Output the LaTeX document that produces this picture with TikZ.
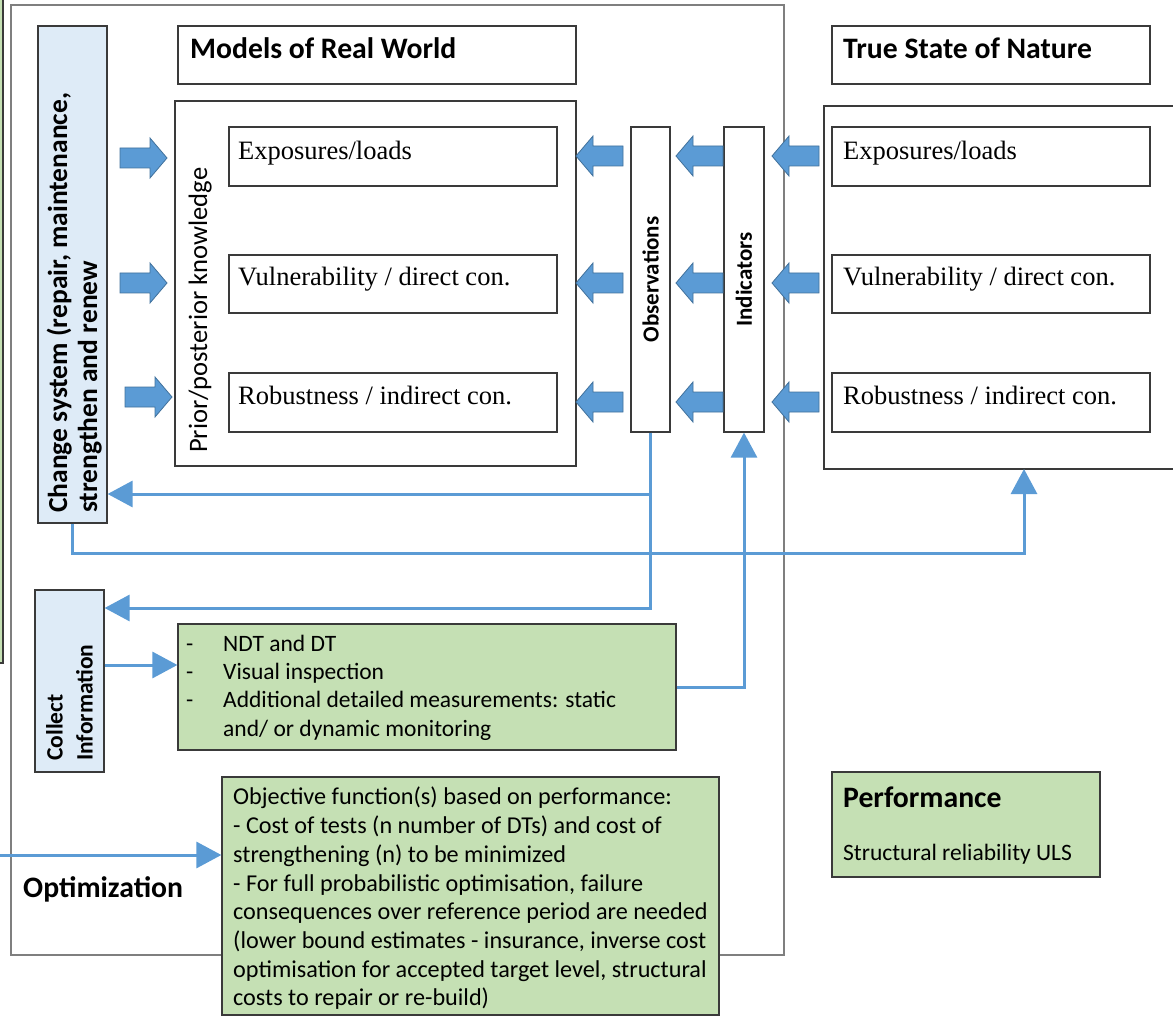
\documentclass[tikz,border=0pt]{standalone}
\usepackage{fontspec}
\setmainfont{Carlito}
\newfontfamily\timesfont{Liberation Serif}
\usetikzlibrary{arrows.meta,fit}
\definecolor{arrowblue}{HTML}{5B9BD5}
\definecolor{arrowedge}{HTML}{41719C}
\definecolor{lblue}{HTML}{DEEBF7}
\definecolor{lgreen}{HTML}{C5E0B4}
\definecolor{boxline}{HTML}{3A3A3A}
\definecolor{outerline}{HTML}{7F7F7F}
\newcommand\myfs[2]{\fontsize{#1}{#2}\selectfont}
\begin{document}
\begin{tikzpicture}[x=1pt,y=-1pt,
  box/.style={draw=boxline, line width=1.2pt, inner sep=0pt, fill=white},
  bluebox/.style={box, fill=lblue},
  greenbox/.style={box, fill=lgreen},
  outerbox/.style={draw=outerline, line width=1.4pt, inner sep=0pt},
  conn/.style={draw=arrowblue, line width=3pt, -{Triangle[length=25pt,width=26pt]}},
  title/.style={font=\bfseries\myfs{29.7}{35}, inner sep=0pt},
  serif/.style={font=\timesfont\myfs{26.5}{32}, inner sep=0pt},
  body/.style={font=\myfs{23.5}{28.4}, inner sep=0pt},
  barr/.pic={\draw[fill=arrowblue, draw=arrowedge, line width=0.8pt]
     (0,0) -- (-17,-20) -- (-17,-10) -- (-47,-10) -- (-47,10) -- (-17,10) -- (-17,20) -- cycle;}
]
\useasboundingbox (0,0) rectangle (1173,1016);

% partial green box at the left edge
\fill[lgreen] (-20,-20) rectangle (3,663);
\draw[boxline, line width=1.2pt] (3,-20) -- (3,663) -- (-20,663);

% outer frame of the model
\node[outerbox, fit={(11,5) (784,955)}] (outer) {};

% right "true state" frame
\node[box, fit={(824,106) (1190,469)}] (nat) {};

% titles
\node[box, fit={(178,26) (576,84)}] (mtbox) {};
\node[box, fit={(832,26) (1150,84)}] (ntbox) {};
\node[title, anchor=base west] (mtt) at (190,59) {Models of Real World};
\node[title, anchor=base west] (ntt) at (843,59) {True State of Nature};

% prior/posterior frame and model boxes
\node[box, fit={(175,101) (576,466)}] (prior) {};
\node[box, fit={(229,127) (557,186)}] (le1) {};
\node[box, fit={(229,255) (557,313)}] (le2) {};
\node[box, fit={(229,373) (557,432)}] (le3) {};
\node[serif, anchor=base west] (le1t) at (238,160) {Exposures/loads};
\node[serif, anchor=base west] (le2t) at (238,286) {Vulnerability / direct con.};
\node[serif, anchor=base west] (le3t) at (238,404) {Robustness / indirect con.};
\node[rotate=90, anchor=base west, font=\myfs{26.6}{32}, inner sep=0pt] (pkt) at (207,453) {Prior/posterior knowledge};

% true-state boxes
\node[box, fit={(832,127) (1150,186)}] (re1) {};
\node[box, fit={(832,255) (1150,313)}] (re2) {};
\node[box, fit={(832,373) (1150,432)}] (re3) {};
\node[serif, anchor=base west] (re1t) at (843,160) {Exposures/loads};
\node[serif, anchor=base west] (re2t) at (843,286) {Vulnerability / direct con.};
\node[serif, anchor=base west] (re3t) at (843,404) {Robustness / indirect con.};

% observations and indicators
\node[box, fit={(631,127) (670,432)}] (obs) {};
\node[box, fit={(724,127) (764,432)}] (ind) {};
\node[rotate=90, font=\bfseries\myfs{23}{28}] (obst) at (obs.center) {Observations};
\node[rotate=90, font=\bfseries\myfs{23}{28}] (indt) at (ind.center) {Indicators};

% change system and collect information
\node[bluebox, fit={(38,26) (107,523)}] (chg) {};
\node[rotate=90, anchor=south west, align=left, inner sep=0pt, font=\bfseries\myfs{27.5}{30}] (chgt) at (102,513)
  {Change system (repair, maintenance,\\strengthen and renew};
\node[bluebox, fit={(35,590) (104,772)}] (coll) {};
\node[rotate=90, anchor=south west, align=left, inner sep=0pt, font=\bfseries\myfs{23.5}{30}] (collt) at (93,761)
  {Collect\\Information};

% green boxes
\node[greenbox, fit={(178,624) (676,750)}] (ndt) {};
\node[body, anchor=north west, align=left] (ndtt) at (186,634.5)
  {\makebox[37pt][l]{-}NDT and DT\\
   \makebox[37pt][l]{-}Visual inspection\\
   \makebox[37pt][l]{-}Additional detailed measurements: static\\
   \hspace*{37pt}and/ or dynamic monitoring};
\node[greenbox, fit={(222,777) (719,1015)}] (obj) {};
\node[inner sep=0pt, font=\myfs{24.2}{28.7}, anchor=north west, align=left] (objt) at (233,787)
  {Objective function(s) based on performance:\\
   - Cost of tests (n number of DTs) and cost of\\
   strengthening (n) to be minimized\\
   - For full probabilistic optimisation, failure\\
   consequences over reference period are needed\\
   (lower bound estimates - insurance, inverse cost\\
   optimisation for accepted target level, structural\\
   costs to repair or re-build)};
\node[greenbox, fit={(832,772) (1100,877)}] (perf) {};
\node[title, anchor=base west] (perft) at (843,807) {Performance};
\node[body, anchor=base west] (perfs) at (843,860) {Structural reliability ULS};
\node[title, anchor=base west] (optt) at (23,897) {Optimization};

% block arrows
\foreach \yy/\xx in {158/167, 283/167, 397/172} \pic at (\xx,\yy) {barr};
\foreach \yy in {156, 283, 402} {
  \pic[rotate=180] at (576,\yy) {barr};
  \pic[rotate=180] at (676,\yy) {barr};
  \pic[rotate=180] at (772,\yy) {barr};
}

% thin connectors
\coordinate (y494) at (0,494);
\coordinate (y608) at (0,608);
\coordinate (y553) at (0,553);
\coordinate (y665) at (0,665);
\coordinate (natb) at (1024,469);
\coordinate (optsrc) at (-5,855);
\draw[conn] (obs.south) |- (coll.east |- y608);
\draw[conn] (obs.south |- y494) -- (chg.east |- y494);
\draw[conn] (chg.south) |- (natb |- y553) -- (natb);
\draw[conn] (ndt.east) -| (ind.south);
\draw[conn] (coll.east |- y665) -- (ndt.west |- y665);
\draw[conn] (optsrc) -- (obj.west |- optsrc);
\end{tikzpicture}
\end{document}
